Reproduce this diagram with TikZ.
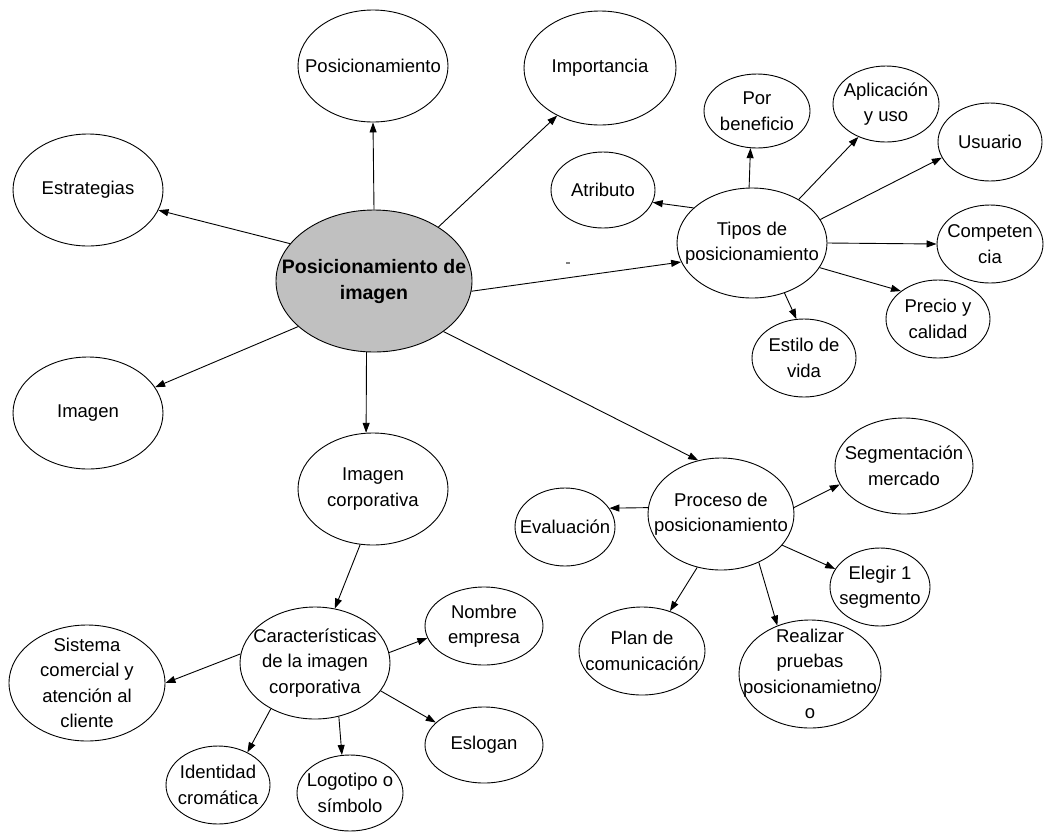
\documentclass[tikz,border=0pt]{standalone}
\usepackage{fontspec}
\setmainfont{Liberation Sans}
\usetikzlibrary{shapes.geometric,arrows.meta}
\definecolor{centergray}{HTML}{C0C0C0}
\tikzset{
  bub/.style={ellipse, draw=black, line width=0.9pt, inner sep=0pt, fill=white},
  txt/.style={label={[align=center, inner sep=0pt]center:{#1}}},
  hub/.style={bub, fill=centergray},
  con/.style={line width=0.9pt, -{Triangle[length=10pt,width=7pt]}},
}
\begin{document}
\begin{tikzpicture}[x=1pt,y=-1pt,font=\fontsize{18.5}{25.5}\selectfont]
\useasboundingbox[fill=white] (0,0) rectangle (1061,831);
% central
\node[hub, minimum width=196pt, minimum height=142pt,
  label={[align=center, inner sep=0pt, font=\fontsize{19.5}{26}\selectfont\bfseries]center:{Posicionamiento de\\imagen}}] (c) at (374,281) {};
% first ring
\node[bub, minimum width=150pt, minimum height=112pt, txt={Posicionamiento}] (pos) at (373,66) {};
\node[bub, minimum width=152pt, minimum height=114pt, txt={Importancia}] (imp) at (600,68) {};
\node[bub, minimum width=150pt, minimum height=112pt, txt={Estrategias}] (est) at (88,190) {};
\node[bub, minimum width=150pt, minimum height=112pt, txt={Imagen}] (img) at (88,413) {};
\node[bub, minimum width=150pt, minimum height=112pt, txt={Imagen\\corporativa}] (ic) at (373,489) {};
\node[bub, minimum width=150pt, minimum height=110pt, txt={Tipos de\\posicionamiento}] (tip) at (752,243) {};
\node[bub, minimum width=146pt, minimum height=112pt, txt={Proceso de\\posicionamiento}] (pro) at (721,514) {};
% tipos
\node[bub, minimum width=104pt, minimum height=76pt, txt={Atributo}] (atr) at (603,190) {};
\node[bub, minimum width=106pt, minimum height=74pt, txt={Por\\beneficio}] (pb) at (757,111) {};
\node[bub, minimum width=106pt, minimum height=76pt, txt={Aplicación\\y uso}] (ap) at (886,104) {};
\node[bub, minimum width=104pt, minimum height=78pt, txt={Usuario}] (us) at (990,142) {};
\node[bub, minimum width=106pt, minimum height=78pt, txt={Competen\\cia}] (comp) at (990,244) {};
\node[bub, minimum width=104pt, minimum height=78pt, txt={Precio y\\calidad}] (pre) at (938,319) {};
\node[bub, minimum width=104pt, minimum height=78pt, txt={Estilo de\\vida}] (vida) at (804,358) {};
% caracteristicas
\node[bub, minimum width=150pt, minimum height=112pt, txt={Características\\de la imagen\\corporativa}] (car) at (315,663) {};
\node[bub, minimum width=156pt, minimum height=116pt, txt={Sistema\\comercial y\\atención al\\cliente}] (sis) at (87,683) {};
\node[bub, minimum width=118pt, minimum height=78pt, txt={Nombre\\empresa}] (nom) at (484,626) {};
\node[bub, minimum width=118pt, minimum height=76pt, txt={Eslogan}] (esl) at (484,745) {};
\node[bub, minimum width=104pt, minimum height=78pt, txt={Identidad\\cromática}] (ide) at (218,785) {};
\node[bub, minimum width=106pt, minimum height=76pt, txt={Logotipo o\\símbolo}] (logo) at (350,793) {};
% proceso
\node[bub, minimum width=100pt, minimum height=78pt, txt={Evaluación}] (eva) at (565,527) {};
\node[bub, minimum width=138pt, minimum height=96pt, txt={Segmentación\\mercado}] (seg) at (904,466) {};
\node[bub, minimum width=100pt, minimum height=78pt, txt={Elegir 1\\segmento}] (ele) at (880,587) {};
\node[bub, minimum width=126pt, minimum height=88pt, txt={Plan de\\comunicación}] (plan) at (642,651) {};
\node[bub, minimum width=142pt, minimum height=108pt, txt={Realizar\\pruebas\\posicionamietno\\o}] (real) at (810,674) {};
% stray mark
\draw[gray, line width=1.5pt] (566,263) -- (570,263);
% connectors from center
\draw[con] (c.90) -- (pos.270);
\draw[con] (c.40) -- (imp.228);
\draw[con] (c.156) -- (est.344);
\draw[con] (c.211) -- (img.21);
\draw[con] (c.264) -- (ic.97);
\draw[con] (c.354) -- (tip.195);
\draw[con] (c.324) -- (pro.113);
% tipos
\draw[con] (tip.149) -- (atr.346);
\draw[con] (tip.93) -- (pb.260);
\draw[con] (tip.43) -- (ap.230);
\draw[con] (tip.19) -- (us.198);
\draw[con] (tip.0) -- (comp.180);
\draw[con] (tip.340) -- (pre.143);
\draw[con] (tip.303) -- (vida.101);
% imagen corporativa
\draw[con] (ic.257) -- (car.70);
\draw[con] (car.173) -- (sis.0);
\draw[con] (car.8) -- (nom.192);
\draw[con] (car.337) -- (esl.155);
\draw[con] (car.226) -- (ide.48);
\draw[con] (car.294) -- (logo.102);
% proceso
\draw[con] (pro.175) -- (eva.23);
\draw[con] (pro.5) -- (seg.196);
\draw[con] (pro.333) -- (ele.158);
\draw[con] (pro.246) -- (plan.55);
\draw[con] (pro.308) -- (real.124);
\end{tikzpicture}
\end{document}
